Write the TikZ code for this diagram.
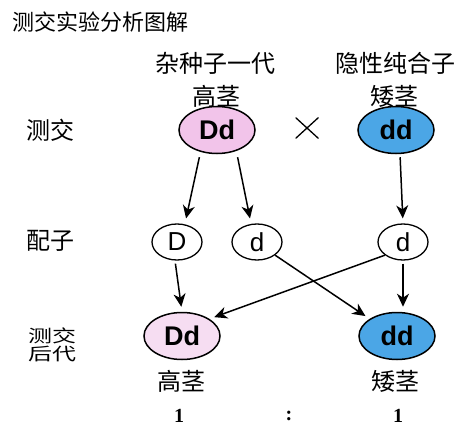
\documentclass[tikz,border=0pt]{standalone}
\usepackage{fontspec}
\setmainfont{Liberation Sans}
\newfontfamily\cjk{Noto Sans CJK SC}
\newfontfamily\digitfont{Liberation Serif}
\usetikzlibrary{shapes.geometric,arrows.meta}
\definecolor{pinkA}{HTML}{F2C4EA}
\definecolor{pinkB}{HTML}{F6DDF2}
\definecolor{blueA}{HTML}{4BA6E6}
\tikzset{
  big/.style={ellipse,draw=black,line width=1.5pt,minimum width=76pt,minimum height=47pt,inner sep=0pt,font=\bfseries\fontsize{27}{27}\selectfont},
  gam/.style={ellipse,draw=black,line width=1.3pt,minimum width=50pt,minimum height=36pt,inner sep=0pt,font=\fontsize{26}{26}\selectfont},
  lab/.style={font=\cjk\fontsize{24}{26}\selectfont,inner sep=0pt},
  arr/.style={line width=1.5pt,shorten <=3pt,shorten >=5pt,-{Stealth[length=13pt,width=12pt,inset=4pt]}},
  num/.style={font=\digitfont\bfseries\fontsize{20}{20}\selectfont,inner sep=0pt},
  crossmark/.style={minimum width=23pt,minimum height=21pt,inner sep=0pt,
    path picture={\draw[line width=1.3pt] (path picture bounding box.north west) -- (path picture bounding box.south east)
      (path picture bounding box.south west) -- (path picture bounding box.north east);}}
}
\begin{document}
\begin{tikzpicture}[x=1pt,y=-1pt]
\useasboundingbox[fill=white] (0,0) rectangle (474,436);
\node[lab,anchor=west,font=\cjk\fontsize{22}{24}\selectfont] (title) at (12,22) {测交实验分析图解};
\node[lab] (l1) at (215,63) {杂种子一代};
\node[lab] (l2) at (395,63) {隐性纯合子};
\node[lab] (h1) at (216,96) {高茎};
\node[lab] (a1) at (394,96) {矮茎};
\node[lab] (cj) at (51,130) {测交};
\node[lab] (pz) at (51,241) {配子};
\node[lab,align=center,font=\cjk\fontsize{24}{24}\selectfont,yscale=0.72,transform shape] (hd) at (52,345) {测交\\后代};
\node[big,fill=pinkA] (P1) at (217,130) {Dd};
\node[big,fill=blueA] (P2) at (396,130) {dd};
\node[crossmark] (x) at (307,128) {};
\node[gam] (gD) at (177,242) {D};
\node[gam] (gd1) at (257,242) {d};
\node[gam] (gd2) at (403,242) {d};
\node[big,fill=pinkB] (O1) at (182,336) {Dd};
\node[big,fill=blueA] (O2) at (397,336) {dd};
\node[lab] (h2) at (181,381) {高茎};
\node[lab] (a2) at (395,381) {矮茎};
\node[num] (n1) at (179,416) {1};
\node[num] (nc) at (289,416) {:};
\node[num] (n2) at (398,416) {1};
\draw[arr] ([xshift=-17pt]P1.south) -- ([xshift=8pt]gD.north);
\draw[arr] ([xshift=20pt]P1.south) -- ([xshift=-6pt]gd1.north);
\draw[arr] ([xshift=4pt]P2.south) -- (gd2.north);
\draw[arr] ([xshift=-2pt]gD.south) -- (O1.north);
\draw[arr] (gd2.south) -- ([xshift=6pt]O2.north);
\draw[arr,shorten <=0pt] (gd1.south east) -- (O2.north west);
\draw[arr,shorten <=0pt] (gd2.south west) -- (O1.north east);
\end{tikzpicture}
\end{document}
